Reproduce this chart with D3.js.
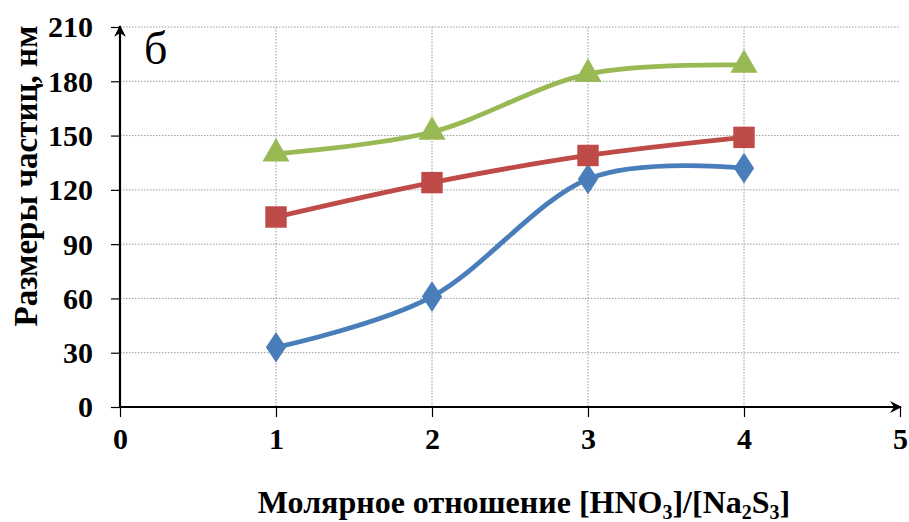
<!DOCTYPE html>
<html>
<head>
<meta charset="utf-8">
<script src="https://cdn.jsdelivr.net/npm/d3@7"></script>
<style>
  html, body { margin: 0; padding: 0; background: #fff; }
  svg { display: block; }
</style>
</head>
<body>
<svg id="chart" width="909" height="522"></svg>
<script>
// Molar ratio values on the x axis
const ratios = [1, 2, 3, 4];
// Particle sizes, nm, for each series
const seriesBlue = [33, 61, 126, 132];
const seriesRed = [105, 124, 139, 149];
const seriesGreen = [140, 152, 184, 189];
// Axis ticks
const xTicks = [0, 1, 2, 3, 4, 5];
const yTicks = [0, 30, 60, 90, 120, 150, 180, 210];

const svg = d3.select("#chart");
const serif = "'Liberation Serif', 'Times New Roman', serif";

const x = d3.scaleLinear().domain([0, 5]).range([120, 900]);
const y = d3.scaleLinear().domain([0, 210]).range([407, 27]);

// Dotted gridlines
const grid = svg.append("g").attr("stroke", "#9a9a9a").attr("stroke-width", 1)
  .attr("stroke-dasharray", "1.5,1.5");
grid.selectAll("line.h").data(yTicks.filter(d => d > 0)).join("line")
  .attr("x1", x(0)).attr("x2", x(5))
  .attr("y1", d => y(d)).attr("y2", d => y(d));
grid.selectAll("line.v").data(xTicks.filter(d => d > 0 && d < 5)).join("line")
  .attr("x1", d => x(d)).attr("x2", d => x(d))
  .attr("y1", y(210)).attr("y2", y(0));

// Axes with outward ticks
const yAxis = d3.axisLeft(y).tickValues(yTicks).tickFormat(d3.format("d")).tickSize(9).tickPadding(18);
const xAxis = d3.axisBottom(x).tickValues(xTicks).tickFormat(d3.format("d")).tickSize(10).tickPadding(11);

const gy = svg.append("g").attr("transform", `translate(${x(0)},0)`).call(yAxis);
const gx = svg.append("g").attr("transform", `translate(0,${y(0)})`).call(xAxis);
[gx, gy].forEach(g => {
  g.attr("font-family", serif);
  g.select(".domain").remove();
  g.selectAll(".tick line").attr("stroke", "#000").attr("stroke-width", 1.2);
  g.selectAll(".tick text")
    .attr("font-family", serif).attr("font-weight", "bold")
    .attr("font-size", 30).attr("fill", "#000");
});
gy.selectAll(".tick text").attr("dy", "0.33em");
gx.selectAll(".tick text").attr("dy", "0.71em");

// Axis lines with arrowheads
const defs = svg.append("defs");
defs.append("marker").attr("id", "arrow").attr("viewBox", "0 0 12 12")
  .attr("refX", 11).attr("refY", 6).attr("markerWidth", 12).attr("markerHeight", 12)
  .attr("markerUnits", "userSpaceOnUse").attr("orient", "auto")
  .append("path").attr("d", "M0,0 L12,6 L0,12 L4,6 Z").attr("fill", "#000");

svg.append("line").attr("x1", x(0)).attr("y1", y(0)).attr("x2", x(0)).attr("y2", y(210) - 1)
  .attr("stroke", "#000").attr("stroke-width", 2.2).attr("marker-end", "url(#arrow)");
svg.append("line").attr("x1", x(0)).attr("y1", y(0)).attr("x2", x(5) + 1).attr("y2", y(0))
  .attr("stroke", "#000").attr("stroke-width", 2.2).attr("marker-end", "url(#arrow)");

// Data series
const series = [
  { values: seriesBlue, color: "#4A7EBB", symbol: d3.symbolDiamond, size: 270 },
  { values: seriesRed, color: "#BE4B48", symbol: d3.symbolSquare, size: 460 },
  { values: seriesGreen, color: "#98B954", symbol: d3.symbolTriangle, size: 320 }
];

const line = d3.line().x((d, i) => x(ratios[i])).y(d => y(d))
  .curve(d3.curveCatmullRom.alpha(0));

series.forEach(s => {
  svg.append("path").datum(s.values)
    .attr("d", line).attr("fill", "none")
    .attr("stroke", s.color).attr("stroke-width", 4.8)
    .attr("stroke-linejoin", "round").attr("stroke-linecap", "round");
  svg.append("g").selectAll("path").data(s.values).join("path")
    .attr("d", d3.symbol().type(s.symbol).size(s.size))
    .attr("transform", (d, i) => `translate(${x(ratios[i])},${y(d)})${s.symbol === d3.symbolDiamond ? " scale(1.15,1)" : ""}`)
    .attr("fill", s.color);
});

// Panel letter
svg.append("text").attr("x", 144).attr("y", 64)
  .attr("font-family", serif).attr("font-size", 46).attr("fill", "#000").text("б");

// Axis titles
svg.append("text").attr("transform", "translate(37,176) rotate(-90)")
  .attr("text-anchor", "middle")
  .attr("font-family", serif).attr("font-weight", "bold").attr("font-size", 33).attr("fill", "#000")
  .text("Размеры частиц, нм");

const xt = svg.append("text").attr("x", 524).attr("y", 513).attr("text-anchor", "middle")
  .attr("font-family", serif).attr("font-weight", "bold").attr("font-size", 32).attr("fill", "#000");
xt.append("tspan").text("Молярное отношение [HNO");
xt.append("tspan").attr("font-size", 20).attr("dy", 6).text("3");
xt.append("tspan").attr("dy", -6).text("]/[Na");
xt.append("tspan").attr("font-size", 20).attr("dy", 6).text("2");
xt.append("tspan").attr("dy", -6).text("S");
xt.append("tspan").attr("font-size", 20).attr("dy", 6).text("3");
xt.append("tspan").attr("dy", -6).text("]");
</script>
</body>
</html>
